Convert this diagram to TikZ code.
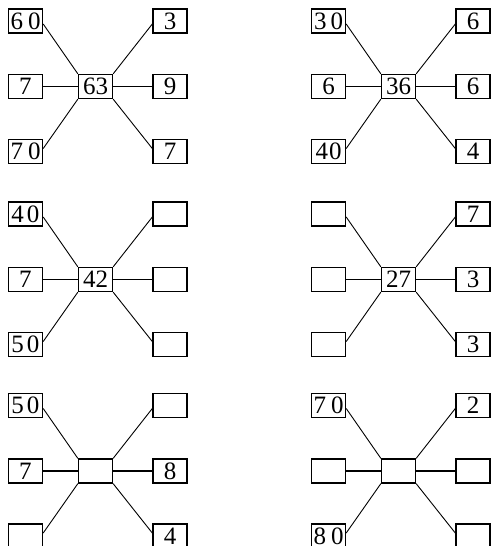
\documentclass[tikz,border=0pt]{standalone}
\usepackage{fontspec}
\setmainfont{Liberation Serif}
\tikzset{
  cell/.style={draw, line width=1.4pt, minimum width=34pt, minimum height=24pt,
    inner sep=0pt, font=\fontsize{25}{25}\selectfont},
  spoke/.style={line width=0.9pt},
  hubline/.style={line width=1.3pt}
}
\newcommand\starpanel[8]{%
  \node[cell] (#1c)  at (70,65.5)   {#2};
  \node[cell] (#1tl) at (0,0)       {#3};
  \node[cell] (#1ml) at (0,65.5)    {#4};
  \node[cell] (#1bl) at (0,130.5)   {#5};
  \node[cell] (#1tr) at (144.5,0)   {#6};
  \node[cell] (#1mr) at (144.5,65.5){#7};
  \node[cell] (#1br) at (144.5,130.5){#8};
  \draw[spoke] ([yshift=-3pt]#1tl.east) -- (#1c.north west);
  \draw[spoke] ([yshift=3pt]#1bl.east) -- (#1c.south west);
  \draw[spoke] ([yshift=-3pt]#1tr.west) -- (#1c.north east);
  \draw[spoke] ([yshift=3pt]#1br.west) -- (#1c.south east);
  \draw[hubline] (#1ml.east) -- (#1c.west);
  \draw[hubline] (#1c.east) -- (#1mr.west);
}
\begin{document}
\begin{tikzpicture}[x=1pt,y=-1pt]
\useasboundingbox (0,0) rectangle (491,546);
\clip (0,0) rectangle (491,546);
\begin{scope}[shift={(25.5,21)}]
  \starpanel{a}{63}{6\kern5pt0}{7}{7\kern5pt0}{3}{9}{7}
\end{scope}
\begin{scope}[shift={(328.5,21)}]
  \starpanel{b}{36}{3\kern4pt0}{6}{4\kern1pt0}{6}{6}{4}
\end{scope}
\begin{scope}[shift={(25.5,214)}]
  \starpanel{c}{42}{4\kern3pt0}{7}{5\kern3pt0}{}{}{}
\end{scope}
\begin{scope}[shift={(328.5,214)}]
  \starpanel{d}{27}{}{}{}{7}{3}{3}
\end{scope}
\begin{scope}[shift={(25.5,405.5)}]
  \starpanel{e}{}{5\kern3pt0}{7}{}{}{8}{4}
\end{scope}
\begin{scope}[shift={(328.5,405.5)}]
  \starpanel{f}{}{7\kern5pt0}{}{8\kern5pt0}{2}{}{}
\end{scope}
\end{tikzpicture}
\end{document}
